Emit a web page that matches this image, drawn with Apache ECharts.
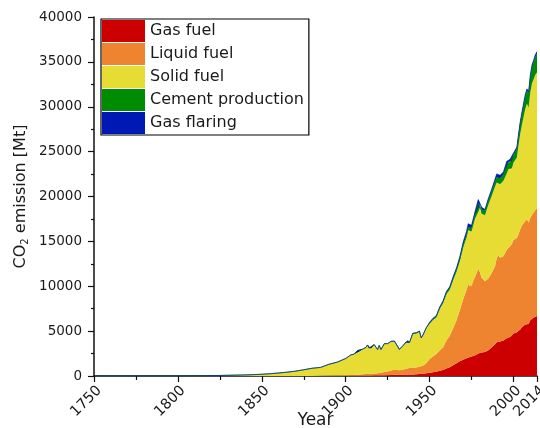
<!DOCTYPE html>
<html>
<head>
<meta charset="utf-8">
<script src="https://cdn.jsdelivr.net/npm/echarts@6/dist/echarts.min.js"></script>
<style>
  html, body { margin: 0; padding: 0; background: #fff; }
  #chart { width: 540px; height: 428px; }
</style>
</head>
<body>
<div id="chart"></div>
<script>
// Global CO2 emissions by source, Mt CO2 per year
const years = [
  1751, 1800, 1825, 1840, 1845, 1850, 1855, 1860, 1865, 1870, 1875, 1880, 1885, 1890, 1895,
  1900, 1903, 1905, 1907, 1908, 1910, 1912, 1913, 1914, 1915, 1917, 1919, 1920, 1921, 1923,
  1925, 1927, 1929, 1930, 1932, 1934, 1936, 1937, 1938, 1940, 1942, 1944, 1945, 1946, 1948,
  1950, 1952, 1954, 1956, 1958, 1960, 1962, 1964, 1966, 1968, 1970, 1972, 1973, 1974, 1975,
  1977, 1979, 1980, 1981, 1982, 1983, 1985, 1987, 1989, 1990, 1991, 1992, 1994, 1996, 1997,
  1998, 1999, 2000, 2002, 2003, 2004, 2005, 2006, 2007, 2008, 2009, 2010, 2011, 2012, 2013,
  2014
];

const gasFuel = [
  0, 0, 0, 0, 0, 0, 0, 0, 0, 0, 0, 0, 4, 11, 15,
  11, 15, 18, 22, 26, 29, 33, 37, 37, 40, 48, 48, 51, 51, 62,
  81, 106, 132, 136, 121, 128, 147, 165, 165, 176, 187, 220, 231, 260, 293,
  356, 422, 484, 590, 678, 832, 983, 1203, 1408, 1650, 1808, 1973, 2072, 2120, 2160,
  2274, 2516, 2615, 2611, 2633, 2666, 2857, 3172, 3528, 3751, 3843, 3850, 3946, 4265, 4265,
  4334, 4488, 4727, 4884, 5068, 5192, 5420, 5618, 5728, 5926, 5786, 6219, 6381, 6520, 6615,
  6685
];

const liquidFuel = [
  0, 0, 0, 0, 0, 0, 0, 0, 0, 4, 7, 11, 15, 33, 40,
  84, 103, 106, 125, 139, 161, 180, 194, 205, 216, 235, 264, 308, 312, 381,
  414, 502, 583, 572, 524, 579, 671, 733, 719, 777, 766, 836, 807, 880, 1118,
  1551, 1760, 1958, 2277, 2490, 3113, 3513, 4114, 4774, 5688, 6744, 7602, 8199, 7884, 7803,
  8727, 9420, 8955, 8342, 8104, 7884, 8016, 8295, 8738, 9388, 9571, 9314, 9388, 9791, 10011,
  10121, 10231, 10414, 10488, 10744, 11148, 11335, 11404, 11514, 11573, 11294, 11419, 11551, 11734, 11844,
  12028
];

const solidFuel = [
  11, 29, 60, 121, 150, 198, 257, 334, 425, 535, 689, 854, 939, 1265, 1492,
  1859, 2230, 2314, 2681, 2571, 2794, 2970, 3227, 2875, 2816, 3220, 2644, 3058, 2582, 3161,
  3117, 3253, 3135, 2842, 2292, 2611, 2926, 3036, 2809, 3748, 3795, 3887, 3179, 3366, 3898,
  3924, 4070, 4067, 4591, 4932, 5170, 5115, 5357, 5412, 5442, 5761, 5834, 5955, 6028, 6146,
  6505, 6931, 7147, 7136, 7268, 7371, 8203, 8577, 8838, 8434, 8177, 8214, 8434, 8801, 8764,
  8618, 8434, 8650, 8984, 9901, 10634, 11225, 11844, 12504, 12835, 12835, 13957, 14668, 14815, 15108,
  15097
];

const cementProduction = [
  0, 0, 0, 0, 0, 0, 0, 0, 0, 0, 0, 0, 0, 0, 0,
  0, 0, 0, 0, 0, 0, 0, 0, 0, 0, 0, 0, 0, 0, 0,
  0, 0, 48, 44, 33, 37, 48, 51, 55, 62, 59, 48, 37, 51, 62,
  66, 81, 99, 114, 139, 158, 180, 209, 231, 257, 286, 308, 326, 326, 348,
  389, 429, 440, 444, 444, 458, 480, 521, 568, 576, 590, 612, 697, 770, 796,
  792, 799, 829, 906, 986, 1093, 1140, 1243, 1353, 1412, 1503, 1635, 1797, 1874, 1980,
  2083
];

const gasFlaring = [
  0, 0, 0, 0, 0, 0, 0, 0, 0, 0, 0, 0, 0, 0, 0,
  0, 0, 0, 0, 0, 0, 0, 0, 0, 0, 0, 0, 0, 0, 0,
  0, 0, 0, 0, 0, 0, 0, 0, 0, 0, 0, 0, 0, 0, 0,
  84, 99, 110, 114, 117, 143, 158, 180, 209, 249, 319, 385, 403, 392, 337,
  374, 359, 293, 257, 213, 176, 216, 235, 275, 367, 403, 367, 271, 290, 290,
  290, 231, 224, 238, 249, 253, 249, 249, 249, 242, 242, 242, 242, 249, 249,
  249
];

const seriesNames = ['Gas fuel', 'Liquid fuel', 'Solid fuel', 'Cement production', 'Gas flaring'];
const seriesValues = [gasFuel, liquidFuel, solidFuel, cementProduction, gasFlaring];
const seriesColors = ['#cc0000', '#ee8430', '#e6dc34', '#008c00', '#0019b4'];

const yTicks = { min: 0, max: 40000, step: 5000 };
const xTicks = { min: 1750, max: 2014, step: 50 };

const FONT = 'DejaVu Sans';
const INK = '#1a1a1a';

const chart = echarts.init(document.getElementById('chart'), null, { renderer: 'canvas' });

// Each row is [emission, year]; the emission dimension comes first so the
// stack accumulates along the y axis while the year drives the value x axis.
const series = seriesNames.map((name, i) => ({
  name: name,
  type: 'line',
  stack: 'total',
  symbol: 'none',
  showSymbol: false,
  dimensions: ['emission', 'year'],
  encode: { x: 'year', y: 'emission' },
  data: years.map((y, k) => [seriesValues[i][k], y]),
  itemStyle: { color: seriesColors[i] },
  lineStyle: { width: i >= 3 ? 0.7 : 0, color: seriesColors[i] },
  areaStyle: { color: seriesColors[i], opacity: 1 },
  emphasis: { disabled: true },
  animation: false
}));

chart.setOption({
  animation: false,
  backgroundColor: '#ffffff',
  grid: {
    left: 94, right: 3, top: 17, bottom: 52,
    containLabel: false,
    outerBoundsMode: 'none'
  },
  legend: {
    data: seriesNames,
    orient: 'vertical',
    left: 101,
    top: 19,
    icon: 'rect',
    itemWidth: 43,
    itemHeight: 22,
    itemGap: 1,
    padding: [1, 5, 1, 1],
    borderColor: '#000',
    borderWidth: 1.2,
    backgroundColor: '#fff',
    textStyle: { fontFamily: FONT, fontSize: 16, color: INK },
    selectedMode: false
  },
  xAxis: {
    type: 'value',
    min: xTicks.min,
    max: xTicks.max,
    interval: xTicks.step,
    name: 'Year',
    nameLocation: 'middle',
    nameGap: 36,
    nameMoveOverlap: false,
    nameTextStyle: { fontFamily: FONT, fontSize: 17, color: INK },
    axisLine: { show: true, onZero: false, lineStyle: { color: '#111', width: 1.5 } },
    axisTick: { show: true, length: 6, lineStyle: { color: '#111', width: 1.2 } },
    minorTick: { show: true, splitNumber: 2, length: 4, lineStyle: { color: '#111', width: 1.2 } },
    splitLine: { show: false },
    axisLabel: {
      rotate: 45,
      margin: 7,
      verticalAlign: 'top',
      fontFamily: FONT,
      fontSize: 14.5,
      color: INK,
      hideOverlap: false,
      formatter: v => String(v)
    }
  },
  yAxis: {
    type: 'value',
    min: yTicks.min,
    max: yTicks.max,
    interval: yTicks.step,
    name: '{m|CO}{s|2}{m| emission [Mt]}',
    nameLocation: 'middle',
    nameGap: 64,
    nameMoveOverlap: false,
    nameRotate: 90,
    nameTextStyle: {
      fontFamily: FONT,
      fontSize: 16,
      color: INK,
      rich: {
        m: { fontFamily: FONT, fontSize: 16, color: INK },
        s: { fontFamily: FONT, fontSize: 10, color: INK, verticalAlign: 'bottom', padding: [8, 0, 0, 0] }
      }
    },
    axisLine: { show: true, lineStyle: { color: '#111', width: 1.5 } },
    axisTick: { show: true, length: 6, lineStyle: { color: '#111', width: 1.2 } },
    minorTick: { show: true, splitNumber: 2, length: 3, lineStyle: { color: '#111', width: 1.2 } },
    splitLine: { show: false },
    axisLabel: {
      margin: 12,
      fontFamily: FONT,
      fontSize: 13.5,
      color: INK,
      formatter: v => String(v)
    }
  },
  series: series
});
</script>
</body>
</html>
